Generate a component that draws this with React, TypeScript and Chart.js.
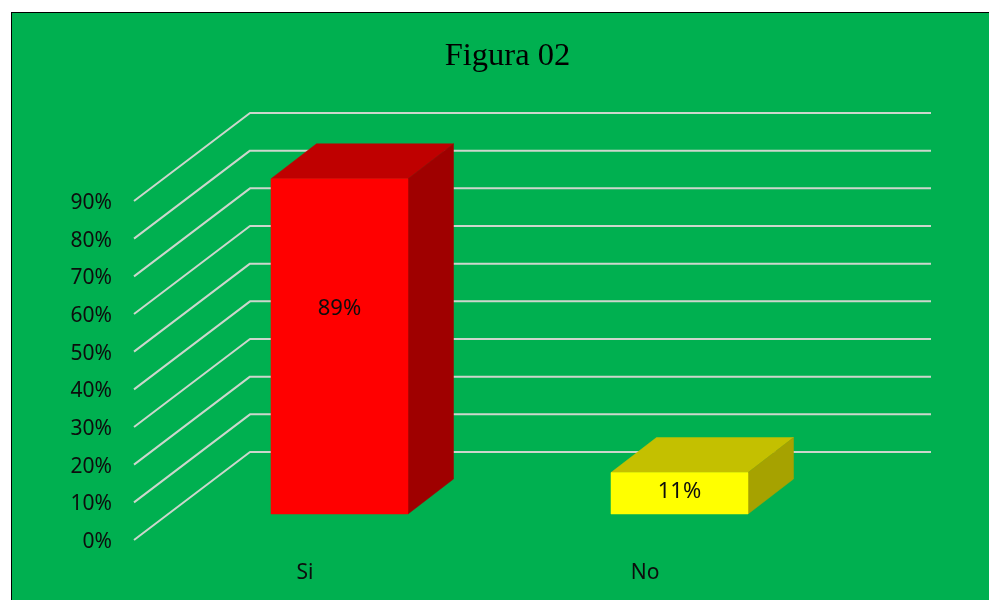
import React, { useEffect, useRef } from "react";
import { Chart, registerables } from "chart.js";

Chart.register(...registerables);

const categories = ["Si", "No"];
const shares = [89, 11];
const shareLabels = ["89%", "11%"];
const labelLevels = [54.5, 6];
const yTicksMax = 90;
const yTickStep = 10;
const faceColors = ["#FF0000", "#FFFF00"];
const topColors = ["#BF0000", "#C4C000"];
const sideColors = ["#9F0000", "#A6A200"];

const TEXT = "#0D0D0D";
const FONT = "'Noto Sans', sans-serif";
const WALL = { dx: 116, dy: -88, right: 931 };
const BAR_PLANE = { dx: 34.5, dy: -26 };
const DEPTH = { dx: 45.5, dy: -35 };

const poly = (ctx: CanvasRenderingContext2D, pts: number[][], color: string) => {
  ctx.fillStyle = color;
  ctx.strokeStyle = color;
  ctx.lineWidth = 0.5;
  ctx.beginPath();
  pts.forEach(([x, y], i) => (i ? ctx.lineTo(x, y) : ctx.moveTo(x, y)));
  ctx.closePath();
  ctx.fill();
  ctx.stroke();
};

const perspective = {
  id: "perspective",
  beforeDatasetsDraw(chart: any) {
    const { ctx, scales } = chart;
    const y = scales.y;
    const x0 = scales.x.left - 1;
    ctx.save();
    ctx.strokeStyle = "#CCD6CC";
    ctx.lineWidth = 2;
    ctx.lineJoin = "round";
    y.ticks.forEach((t: any) => {
      const py = y.getPixelForValue(t.value);
      ctx.beginPath();
      ctx.moveTo(x0, py);
      ctx.lineTo(x0 + WALL.dx, py + WALL.dy);
      ctx.lineTo(WALL.right, py + WALL.dy);
      ctx.stroke();
    });
    ctx.restore();
  },
  beforeDatasetDraw() {
    return false;
  },
  afterDatasetsDraw(chart: any) {
    const { ctx, scales } = chart;
    const meta = chart.getDatasetMeta(0);
    meta.data.forEach((bar: any, i: number) => {
      const l = bar.x - bar.width / 2 + BAR_PLANE.dx;
      const r = bar.x + bar.width / 2 + BAR_PLANE.dx;
      const t = bar.y + BAR_PLANE.dy;
      const b = bar.base + BAR_PLANE.dy;
      const { dx, dy } = DEPTH;
      ctx.save();
      poly(ctx, [[l, t], [r, t], [r + dx, t + dy], [l + dx, t + dy]], topColors[i]);
      poly(ctx, [[r, t], [r + dx, t + dy], [r + dx, b + dy], [r, b]], sideColors[i]);
      poly(ctx, [[l, t], [r, t], [r, b], [l, b]], faceColors[i]);
      ctx.fillStyle = TEXT;
      ctx.font = `22px ${FONT}`;
      ctx.textAlign = "center";
      ctx.textBaseline = "middle";
      ctx.fillText(
        shareLabels[i],
        (l + r) / 2,
        scales.y.getPixelForValue(labelLevels[i]) + BAR_PLANE.dy
      );
      ctx.restore();
    });
  },
};

export default function App() {
  const ref = useRef<HTMLCanvasElement>(null);
  useEffect(() => {
    const chart = new Chart(ref.current as HTMLCanvasElement, {
      type: "bar",
      data: {
        labels: categories,
        datasets: [
          {
            data: shares,
            backgroundColor: faceColors,
            barPercentage: 1,
            categoryPercentage: 0.403,
          },
        ],
      },
      plugins: [perspective],
      options: {
        responsive: false,
        animation: false,
        layout: { padding: { left: 26, right: 0, top: 0, bottom: 0 } },
        plugins: {
          legend: { display: false },
          tooltip: { enabled: false },
          title: {
            display: true,
            text: "Figura 02",
            color: "#000000",
            font: { family: "'Liberation Serif', serif", size: 32.5, weight: "normal" },
            padding: { top: 37, bottom: 125 },
          },
        },
        scales: {
          x: {
            grid: { display: false },
            border: { display: false },
            ticks: { color: TEXT, font: { family: FONT, size: 21 }, padding: 12, maxRotation: 0 },
            afterFit: (s: any) => {
              s.height = 60;
            },
          },
          y: {
            min: 0,
            max: yTicksMax,
            grid: { display: false },
            border: { display: false },
            ticks: {
              stepSize: yTickStep,
              color: TEXT,
              padding: 15,
              labelOffset: 2,
              font: { family: FONT, size: 21 },
              callback: (v: any) => `${v}%`,
            },
            afterFit: (s: any) => {
              s.width = 109;
            },
          },
          spacer: {
            type: "linear",
            position: "right",
            grid: { display: false },
            border: { display: false },
            ticks: { display: false },
            afterFit: (s: any) => {
              s.width = 174;
            },
          },
        },
      } as any,
    });
    return () => chart.destroy();
  }, []);

  return (
    <div style={{ position: "fixed", left: 0, top: 0, width: 989, height: 600, background: "#FFFFFF", overflow: "hidden" }}>
      <div
        style={{
          position: "absolute",
          left: 11,
          top: 12,
          right: 0,
          bottom: 0,
          background: "#00B050",
          borderLeft: "1px solid #000",
          borderTop: "1px solid #000",
        }}
      />
      <canvas ref={ref} width={989} height={600} style={{ position: "absolute", left: 0, top: 0, display: "block" }} />
    </div>
  );
}
